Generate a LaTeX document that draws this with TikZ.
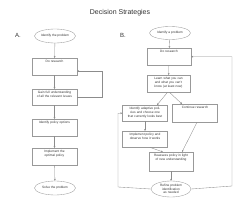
\documentclass[tikz,border=0pt]{standalone}
\usepackage{fontspec}
\setmainfont{Liberation Sans}
\usetikzlibrary{shapes.geometric,arrows.meta}

\begin{document}
\begin{tikzpicture}[x=1pt, y=-1pt, >={Stealth[length=2pt,width=1.8pt]},
    stepbox/.style={draw=black!40, line width=0.35pt, anchor=north, text=black!80,
      text width=41pt, align=center, inner xsep=2pt, inner ysep=1.5pt,
      font=\fontsize{3.2}{3.8}\selectfont, text height=3pt, text depth=11pt},
    endpoint/.style={draw=black!40, line width=0.35pt, ellipse, text=black!80,
      minimum width=41pt, minimum height=14pt, inner sep=0pt, align=center,
      font=\fontsize{3.2}{3.8}\selectfont},
    flow/.style={draw=black!45, line width=0.35pt, ->}]
    \useasboundingbox (0,0) rectangle (250,207);

    % Title and labels
    \node[text=black!80, font=\fontsize{7}{8}\selectfont] (title) at (120,13) {Decision Strategies};
    \node[text=black!80, font=\fontsize{6}{7}\selectfont] (labA) at (18,35) {A.};
    \node[text=black!80, font=\fontsize{6}{7}\selectfont] (labB) at (123,35) {B.};

    % Strategy A
    \node[endpoint] (a1) at (55,36) {Identify the problem};
    \node[stepbox] (a2) at (54.5,58) {Do research};
    \node[stepbox, text depth=10pt] (a3) at (54.5,89) {Gain full understanding of all the relevant issues};
    \node[stepbox] (a4) at (54.5,119) {Identify policy options};
    \node[stepbox] (a5) at (54.5,148) {Implement the optimal policy};
    \node[endpoint] (a6) at (55,188) {Solve the problem};

    \draw[flow] (a1) -- (a2);
    \draw[flow] (a2) -- (a3);
    \draw[flow] (a3) -- (a4);
    \draw[flow] (a4) -- (a5);
    \draw[flow] (a5) -- (a6);
    % loop back to research
    \coordinate (aback) at (102,71);
    \draw[flow] (a3.east) -- (a3.east -| aback) -- (aback) -- (aback -| a2.east);

    % Strategy B
    \node[endpoint, minimum height=13pt] (b1) at (170,33) {Identify a problem};
    \node[stepbox, text width=40pt] (b2) at (169,48) {Do research};
    \node[stepbox, text width=39pt] (b3) at (168.5,75) {Learn what you can and what you can't know (at least now)};
    \node[stepbox, text depth=10pt] (b4) at (145,105) {Identify adaptive policies and choose one that currently looks best};
    \node[stepbox, text depth=12pt] (b5) at (195,104) {Continue research};
    \node[stepbox, text depth=10pt] (b6) at (145,131) {Implement policy and observe how it works};
    \node[stepbox, text width=40pt, text depth=13pt] (b7) at (171,152) {Reassess policy in light of new understanding};
    \node[endpoint, minimum width=40pt, minimum height=16pt, text width=26pt] (b8) at (171,189) {Refine problem identification as needed};

    \draw[flow] (b1) -- (b2);
    \draw[flow] (b2) -- (b3);
    \draw[flow] ([xshift=-1pt]b3.south) -- ([xshift=12pt]b4.north);
    \draw[flow] ([xshift=1pt]b3.south) -- ([xshift=-13pt]b5.north);
    \draw[flow] (b4) -- (b6);
    \draw[flow] ([xshift=5pt]b6.south) -- ([xshift=-8pt]b7.north);
    \draw[flow] ([xshift=2pt]b5.south) -- ([xshift=11pt]b7.north);
    \draw[flow] (b7) -- (b8);
    % loops back
    \coordinate (bleft) at (118,187);
    \draw[flow] (b8.west) -- (bleft) -- (bleft |- b4.west) -- (b4.west);
    \coordinate (bright) at (232,186);
    \draw[flow] (b8.east) -- (bright) -- (bright |- b2.east) -- (b2.east);
\end{tikzpicture}
\end{document}
